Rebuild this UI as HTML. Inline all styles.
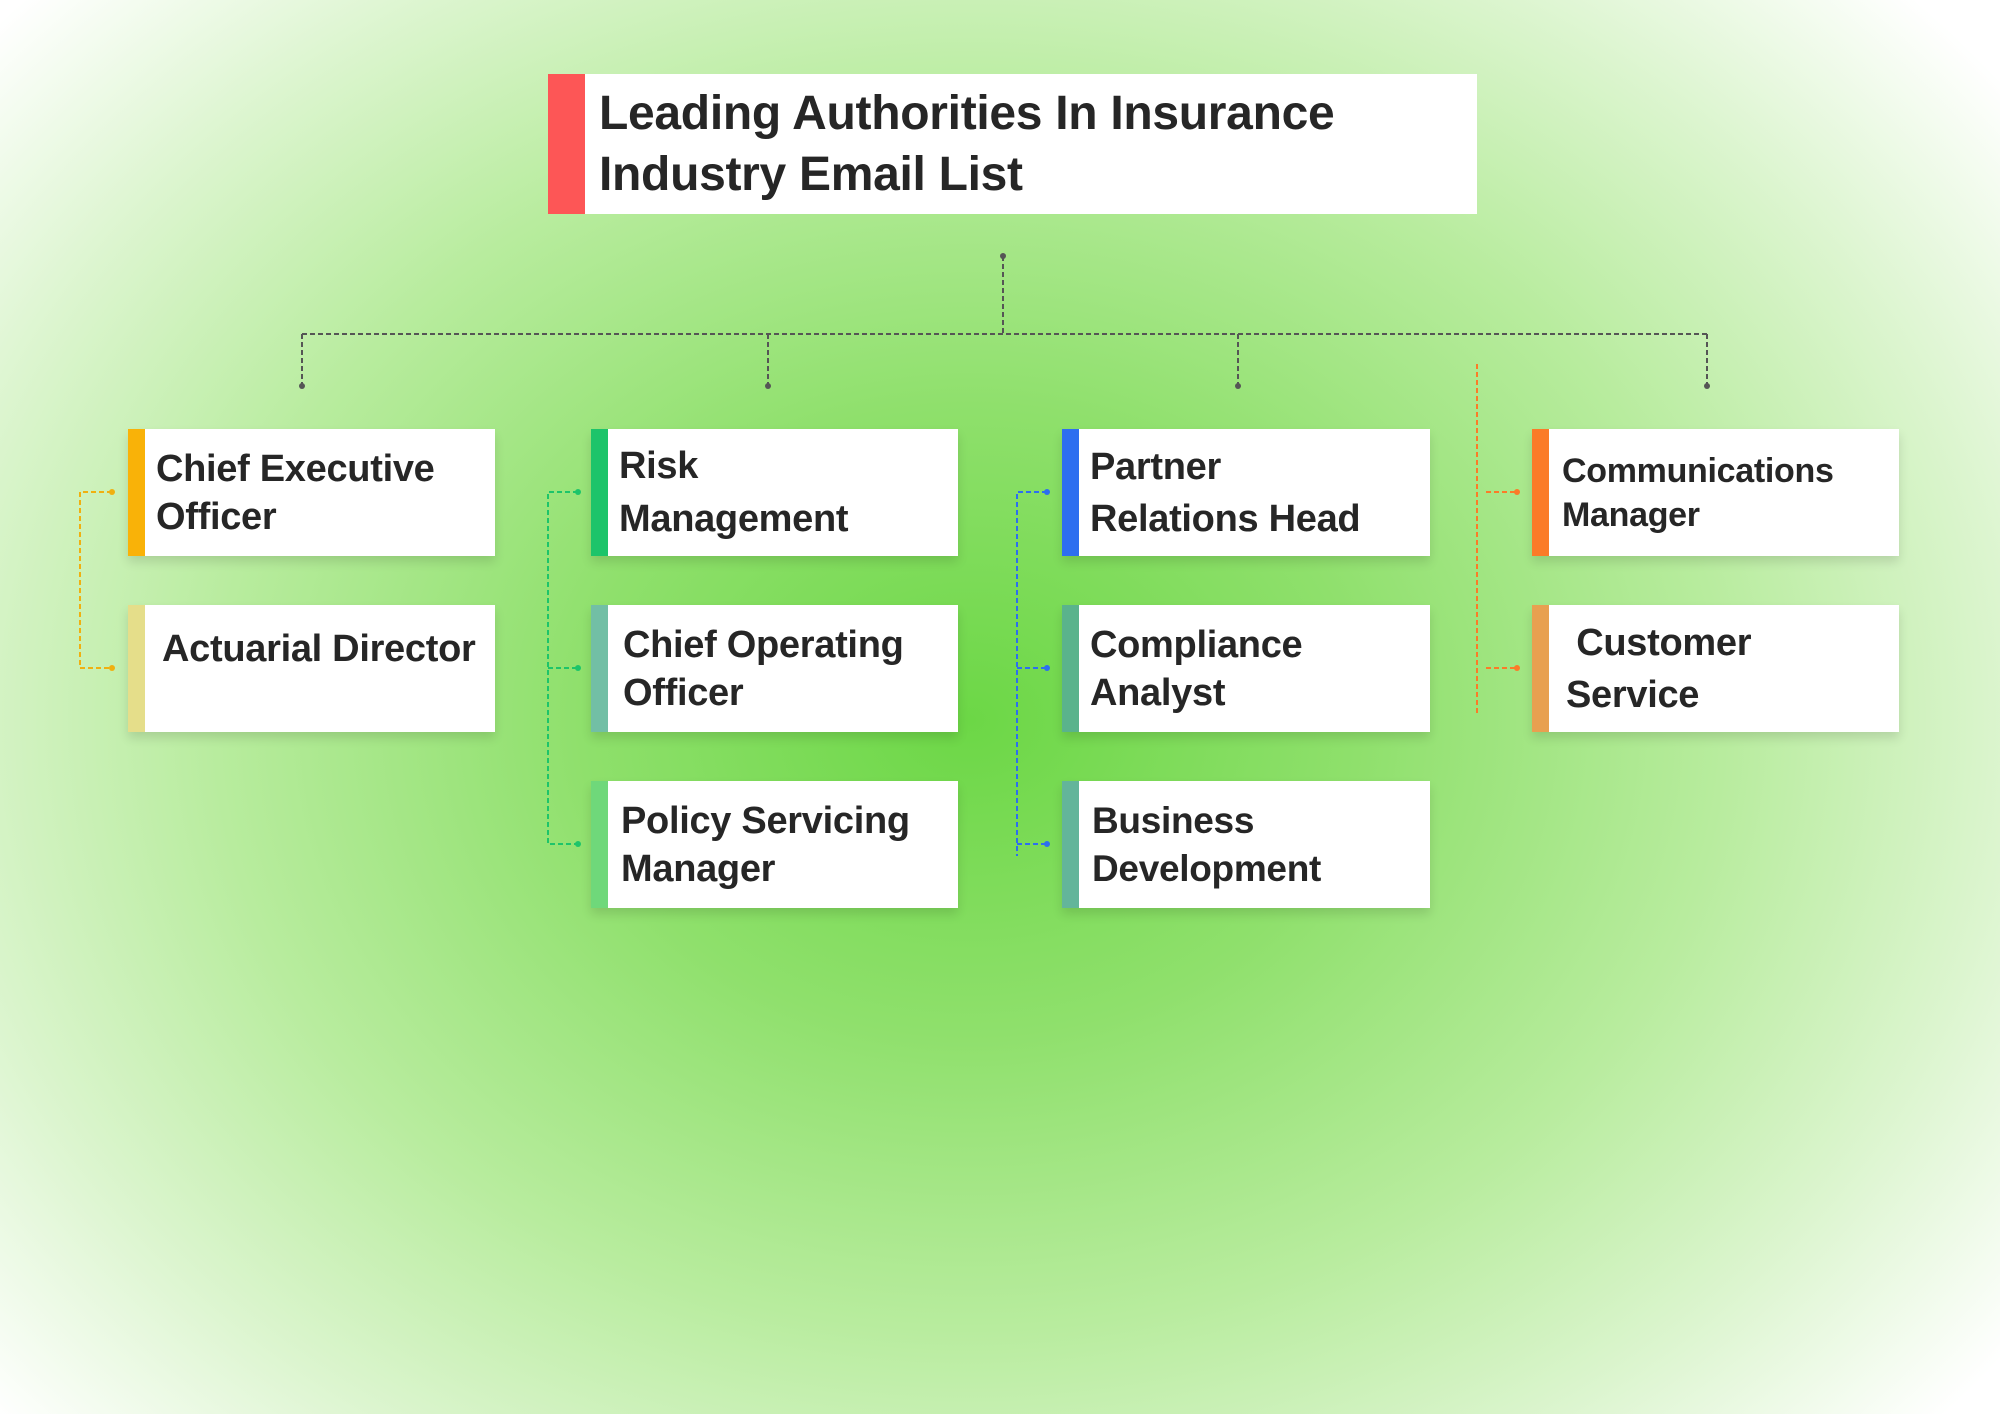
<!DOCTYPE html>
<html><head><meta charset="utf-8"><style>
html,body{margin:0;padding:0}
body{width:2000px;height:1414px;position:relative;overflow:hidden;font-family:"Liberation Sans",sans-serif;
background:radial-gradient(ellipse 1300px 1050px at 970px 720px,#6cd746 0%,#8fe06c 30%,#b8ec9e 58%,#dcf5cf 80%,#ffffff 100%);}
.box{position:absolute;background:#fff;box-shadow:0 6px 10px rgba(0,0,0,0.12)}
.bar{position:absolute;left:0;top:0;bottom:0;width:17px}
.t{position:absolute;left:28px;right:6px;top:0;bottom:0;display:flex;align-items:center;font-weight:bold;color:#262626;font-size:38px;line-height:48px;letter-spacing:-0.3px}
svg{position:absolute;left:0;top:0}
</style></head><body>
<div class="box" style="left:548px;top:74px;width:929px;height:140px;box-shadow:none">
<div class="bar" style="width:37px;background:#fd5656"></div>
<div class="t" style="left:51px;font-size:48px;line-height:61px;color:#262626">Leading Authorities In Insurance<br>Industry Email List</div></div>

<svg width="2000" height="1414">
<g fill="none" stroke-dasharray="5,3" stroke-width="2">
<path d="M1003 256V334M302 334H1707M302 334V386M768 334V386M1238 334V386M1707 334V386" stroke="#555"/>
<path d="M112 492H80V668H112" stroke="#f0b010"/>
<path d="M578 492H548V844H578M548 668H578" stroke="#1dc46a"/>
<path d="M1047 492H1017V856M1017 668H1047M1017 844H1047" stroke="#2d6ef0"/>
<path d="M1477 364V714M1486 492H1517M1486 668H1517" stroke="#fb7b28"/>
</g>
<g fill="#555"><circle cx="1003" cy="256" r="3"/><circle cx="302" cy="386" r="3"/><circle cx="768" cy="386" r="3"/><circle cx="1238" cy="386" r="3"/><circle cx="1707" cy="386" r="3"/></g>
<g fill="#f0b010"><circle cx="112" cy="492" r="3"/><circle cx="112" cy="668" r="3"/></g>
<g fill="#1dc46a"><circle cx="578" cy="492" r="3"/><circle cx="578" cy="668" r="3"/><circle cx="578" cy="844" r="3"/></g>
<g fill="#2d6ef0"><circle cx="1047" cy="492" r="3"/><circle cx="1047" cy="668" r="3"/><circle cx="1047" cy="844" r="3"/></g>
<g fill="#fb7b28"><circle cx="1517" cy="492" r="3"/><circle cx="1517" cy="668" r="3"/></g>
</svg>

<div class="box" style="left:128px;top:429px;width:367px;height:127px"><div class="bar" style="background:#f9b208"></div><div class="t">Chief Executive<br>Officer</div></div>
<div class="box" style="left:128px;top:605px;width:367px;height:127px"><div class="bar" style="background:#e5de8a"></div><div class="t" style="left:34px;align-items:flex-start;padding-top:20px">Actuarial Director</div></div>

<div class="box" style="left:591px;top:429px;width:367px;height:127px"><div class="bar" style="background:#1dc46a"></div><div class="t" style="line-height:53px">Risk<br>Management</div></div>
<div class="box" style="left:591px;top:605px;width:367px;height:127px"><div class="bar" style="background:#72bfa5"></div><div class="t" style="left:32px">Chief Operating<br>Officer</div></div>
<div class="box" style="left:591px;top:781px;width:367px;height:127px"><div class="bar" style="background:#6fd87a"></div><div class="t" style="left:30px">Policy Servicing<br>Manager</div></div>

<div class="box" style="left:1062px;top:429px;width:368px;height:127px"><div class="bar" style="background:#2d6ef0"></div><div class="t" style="line-height:52px">Partner<br>Relations Head</div></div>
<div class="box" style="left:1062px;top:605px;width:368px;height:127px"><div class="bar" style="background:#5ab38c"></div><div class="t">Compliance<br>Analyst</div></div>
<div class="box" style="left:1062px;top:781px;width:368px;height:127px"><div class="bar" style="background:#63b59a"></div><div class="t" style="left:30px;font-size:37px">Business<br>Development</div></div>

<div class="box" style="left:1532px;top:429px;width:367px;height:127px"><div class="bar" style="background:#fb7b28"></div><div class="t" style="left:30px;font-size:34px;line-height:44px">Communications<br>Manager</div></div>
<div class="box" style="left:1532px;top:605px;width:367px;height:127px"><div class="bar" style="background:#e8a050"></div><div class="t" style="left:34px;line-height:52px">&nbsp;Customer<br>Service</div></div>
</body></html>
